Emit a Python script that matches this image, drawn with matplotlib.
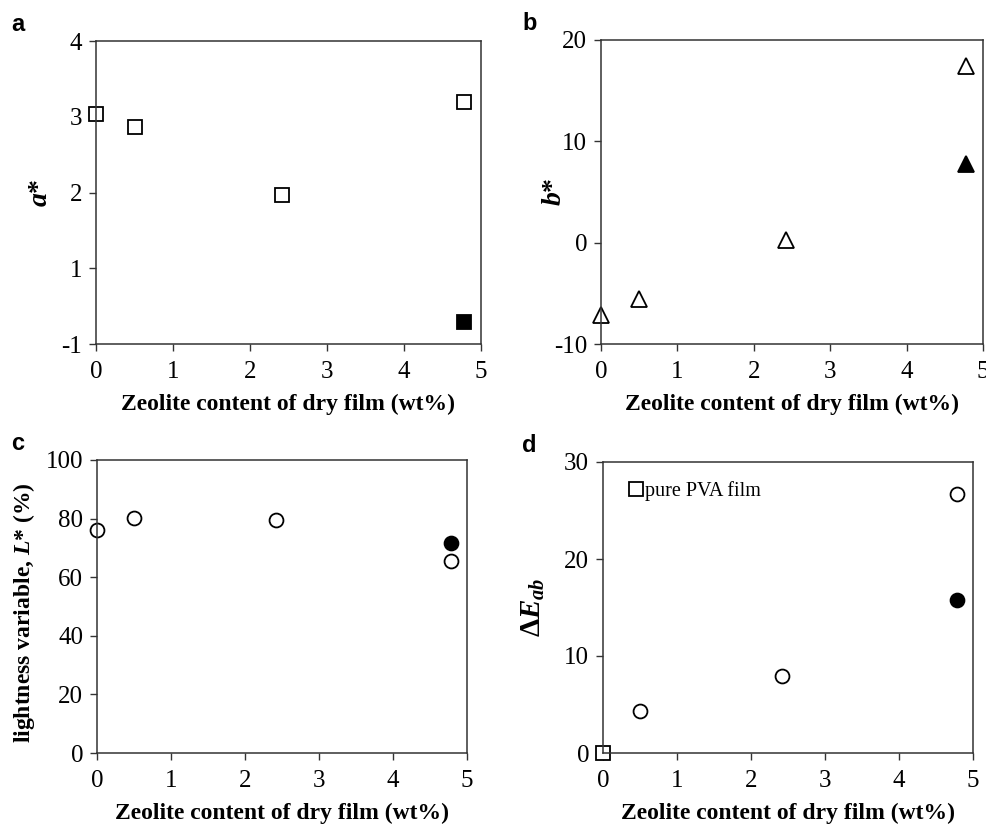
import matplotlib.pyplot as plt
import numpy as np

# ── Datos ─────────────────────────────────────────────────
zeolita_x      = [0.0, 0.5, 2.42, 4.78]
zeolita_lleno  = [4.78]

a_abierto = [3.03, 2.86, 1.97, 3.19]
a_lleno   = [0.29]
a_ticks   = [0, 1, 2, 3, 4]
a_etiq    = ['-1', '1', '2', '3', '4']

b_abierto = [-7.1, -5.6, 0.3, 17.4]
b_lleno   = [7.8]

l_abierto = [76.2, 80.3, 79.4, 65.5]
l_lleno   = [71.6]

de_x       = [0.5, 2.42, 4.78]
de_abierto = [4.3, 7.9, 26.7]
de_lleno   = [15.8]
pva_x      = [0.0]
pva_de     = [0.0]

plt.rcParams['font.family'] = ['Liberation Serif', 'DejaVu Serif']
plt.rcParams['axes.unicode_minus'] = False
plt.rcParams['mathtext.fontset'] = 'custom'
plt.rcParams['mathtext.rm'] = 'Liberation Serif'
plt.rcParams['mathtext.it'] = 'Liberation Serif:italic:bold'
plt.rcParams['mathtext.bf'] = 'Liberation Serif:bold'

fig = plt.figure(figsize=(9.87, 8.24), dpi=100)
W, H = 987, 824

def ejes(l, t, r, b):
    return fig.add_axes([l / W, 1 - b / H, (r - l) / W, (b - t) / H])

ax_a = ejes(96, 41, 481, 344)
ax_b = ejes(601, 40, 983, 344)
ax_c = ejes(97, 460, 467, 753)
ax_d = ejes(603, 462, 973, 753)

xlab = 'Zeolite content of dry film (wt%)'
for ax in (ax_a, ax_b, ax_c, ax_d):
    ax.set_xlim(0, 5)
    ax.set_xticks(range(6))
    ax.tick_params(direction='out', length=5, width=1, labelsize=18,
                   color='#333333')
    ax.tick_params(axis='x', pad=7)
    ax.tick_params(axis='y', pad=5)
    for s in ax.spines.values():
        s.set_linewidth(1.1)
        s.set_color('#333333')
    ax.set_xlabel(xlab, fontsize=17, fontweight='bold', labelpad=8)

mk = dict(linestyle='none', markersize=10, markeredgewidth=1.3,
          markeredgecolor='black', clip_on=False)

# a*
ax_a.plot(zeolita_x, a_abierto, marker='s', markerfacecolor='white', **mk)
ax_a.plot(zeolita_lleno, a_lleno, marker='s', markerfacecolor='black', **mk)
ax_a.set_ylim(0, 4)
ax_a.set_yticks(a_ticks)
ax_a.set_yticklabels(a_etiq)
ax_a.set_ylabel(r'$\mathit{a}$*', fontsize=20, fontweight='bold')
ax_a.yaxis.set_label_coords(-0.112, 0.5)

# b*
mk_t = dict(mk, markersize=11)
ax_b.plot(zeolita_x, b_abierto, marker='^', markerfacecolor='white', **mk_t)
ax_b.plot(zeolita_lleno, b_lleno, marker='^', markerfacecolor='black', **mk_t)
ax_b.set_ylim(-10, 20)
ax_b.set_yticks([-10, 0, 10, 20])
ax_b.set_ylabel(r'$\mathit{b}$*', fontsize=20, fontweight='bold')
ax_b.yaxis.set_label_coords(-0.089, 0.5)

# L*
ax_c.plot(zeolita_x, l_abierto, marker='o', markerfacecolor='white', **mk)
ax_c.plot(zeolita_lleno, l_lleno, marker='o', markerfacecolor='black', **mk)
ax_c.set_ylim(0, 100)
ax_c.set_yticks(range(0, 101, 20))
ax_c.set_ylabel(r'lightness variable, $\mathit{L}$* (%)', fontsize=17,
                fontweight='bold')
ax_c.yaxis.set_label_coords(-0.162, 0.48)

# ΔEab
ax_d.plot(de_x, de_abierto, marker='o', markerfacecolor='white', **mk)
ax_d.plot(zeolita_lleno, de_lleno, marker='o', markerfacecolor='black', **mk)
ax_d.plot(pva_x, pva_de, marker='s', markerfacecolor='white', label='pure PVA film', **mk)
ax_d.set_ylim(0, 30)
ax_d.set_yticks([0, 10, 20, 30])
ax_d.set_ylabel(r'$\mathbf{\Delta}\mathit{E}_{\mathit{ab}}$', fontsize=21)
ax_d.yaxis.set_label_coords(-0.152, 0.5)
ax_d.legend(loc='upper left', frameon=False, fontsize=14.5, handlelength=0.6,
            handletextpad=0.15, borderaxespad=0.5, bbox_to_anchor=(0.025, 0.995))

for ax, letra in ((ax_a, 'a'), (ax_b, 'b'), (ax_c, 'c'), (ax_d, 'd')):
    pos = ax.get_position()
    x0 = 11 / W if letra in 'ac' else 522 / W
    fig.text(x0, pos.y1 + 5 / H, letra, fontsize=17,
             fontweight='bold', family='Liberation Sans', va='bottom')

fig.savefig('out.png', dpi=100)
